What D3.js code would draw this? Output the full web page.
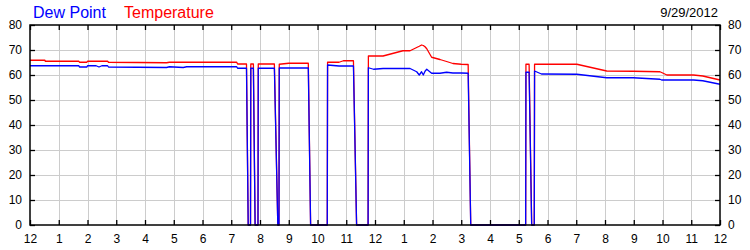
<!DOCTYPE html>
<html>
<head>
<meta charset="utf-8">
<script src="https://cdn.jsdelivr.net/npm/d3@7"></script>
<style>
    body{margin:0;background:#fff;}
    svg{display:block;font-family:Arial,"Liberation Sans",sans-serif;}
    .grid line{stroke:#cccccc;stroke-width:1;shape-rendering:crispEdges;}
    .grid path{display:none;}
    .tick-axis path{display:none;}
    .tick-axis line{stroke:#000;stroke-width:1.3;}
    .tick-axis text{font-size:12px;fill:#000;}
    .frame{fill:none;stroke:#000;stroke-width:1.5;}
    .curve{fill:none;stroke-width:1.3;stroke-linejoin:round;}
</style>
</head>
<body>
<div id="chart"></div>
<script>
// hour of day (0 = midnight)
var hours = [0,0.52,0.53,1.70,1.72,1.98,2.0,2.3,2.4,2.5,2.70,2.73,4.75,4.85,5.33,5.45,7.19,7.22,7.53,7.59,
    7.67,7.68,7.77,7.83,7.93,7.94,8.50,8.62,8.66,8.67,9.0,9.68,9.76,10.34,10.35,10.75,10.9,11.25,11.36,11.76,
    11.77,11.95,12.28,12.97,13.22,13.45,13.54,13.62,13.68,13.74,13.80,13.97,14.26,14.49,14.71,15.0,15.24,15.33,
    17.24,17.25,17.36,17.45,17.54,17.55,17.79,19.02,20.06,20.98,21.91,21.97,22.15,23.08,23.4,24];
var temperature = [65.9,65.9,65.5,65.5,65.1,65.1,65.5,65.5,65.5,65.5,65.5,65.1,64.9,65.1,65.1,65.1,65.1,64.4,64.4,0,
    0,64.4,64.4,0,0,64.4,64.4,0,0,64.3,64.7,64.7,0,0,65.1,65.1,65.7,65.7,0,0,
    67.6,67.6,67.6,69.7,69.7,71.0,71.5,72.0,71.8,71.3,70.5,67.1,66.2,65.4,64.6,64.3,64.2,0,
    0,64.3,64.3,0,0,64.3,64.3,64.3,61.6,61.5,61.3,61.0,60.0,60.0,59.6,58.0];
var dewPoint = [63.7,63.7,63.7,63.7,63.2,63.2,63.7,63.7,63.2,63.7,63.7,63.2,63.0,63.3,63.0,63.3,63.3,62.7,62.7,0,
    0,62.7,62.7,0,0,62.7,62.7,0,0,62.8,62.8,62.8,0,0,64.0,63.6,63.6,63.6,0,0,
    62.9,62.3,62.6,62.6,62.6,61.3,60.0,61.3,60.0,61.5,62.3,60.7,60.7,61.1,60.8,60.8,60.7,0,
    0,61.1,61.1,0,0,61.6,60.4,60.3,58.9,58.9,58.3,58.0,58.0,58.0,57.7,56.3];
var hourLabels = ['12','1','2','3','4','5','6','7','8','9','10','11','12','1','2','3','4','5','6','7','8','9','10','11','12'];
var yTicks = [0,10,20,30,40,50,60,70,80];

var svg_width=750,
    svg_height=250,
    margin={left:30,top:25,right:30,bottom:25},
    width=svg_width-margin.left-margin.right,
    height=svg_height-margin.top-margin.bottom;

var data = hours.map(function (h,i) {
    return {h:h, temp:temperature[i], dew:dewPoint[i]};
});

var scale_x=d3.scaleLinear().domain([0,24]).range([0,width]);
var scale_y=d3.scaleLinear().domain([0,80]).range([height,0]);

var svg=d3.select('#chart')
    .append('svg')
    .attr('width',svg_width)
    .attr('height',svg_height);

var chart=svg.append('g')
    .attr('transform','translate('+margin.left+','+margin.top+')');

//网格
chart.append('g')
    .attr('class','grid')
    .attr('transform','translate(0,'+height+')')
    .call(d3.axisBottom(scale_x).tickValues(d3.range(1,24)).tickSize(-height).tickFormat(''));
chart.append('g')
    .attr('class','grid')
    .call(d3.axisLeft(scale_y).tickValues(yTicks.slice(1,-1)).tickSize(-width).tickFormat(''));

//曲线
var line_temp=d3.line()
    .x(function (d) {return scale_x(d.h);})
    .y(function (d) {return scale_y(d.temp);});
var line_dew=d3.line()
    .x(function (d) {return scale_x(d.h);})
    .y(function (d) {return scale_y(d.dew);});

chart.append('path')
    .attr('d',line_temp(data))
    .attr('class','curve')
    .attr('stroke','#ff0000');
chart.append('path')
    .attr('d',line_dew(data))
    .attr('class','curve')
    .attr('stroke','#0000ff');

//坐标轴
var xTickVals=d3.range(0,25);
chart.append('g')
    .attr('class','tick-axis')
    .attr('transform','translate(0,'+height+')')
    .call(d3.axisBottom(scale_x).tickValues(xTickVals).tickSize(-5).tickPadding(9)
        .tickFormat(function (d) {return hourLabels[d];}));
chart.append('g')
    .attr('class','tick-axis')
    .call(d3.axisTop(scale_x).tickValues(xTickVals).tickSize(-5).tickFormat(''));
chart.append('g')
    .attr('class','tick-axis')
    .call(d3.axisLeft(scale_y).tickValues(yTicks).tickSize(-5).tickPadding(8));
chart.append('g')
    .attr('class','tick-axis')
    .attr('transform','translate('+width+',0)')
    .call(d3.axisRight(scale_y).tickValues(yTicks).tickSize(-5).tickPadding(8));

chart.append('rect')
    .attr('class','frame')
    .attr('width',width)
    .attr('height',height);

//标题
var title=svg.append('text')
    .attr('x',33)
    .attr('y',18)
    .style('font-size','16px');
title.append('tspan').text('Dew Point').attr('fill','#0000ff');
title.append('tspan').text('Temperature').attr('fill','#ff0000').attr('x',124);

svg.append('text')
    .text('9/29/2012')
    .attr('x',718)
    .attr('y',17)
    .attr('text-anchor','end')
    .style('font-size','13px');
</script>
</body>
</html>
